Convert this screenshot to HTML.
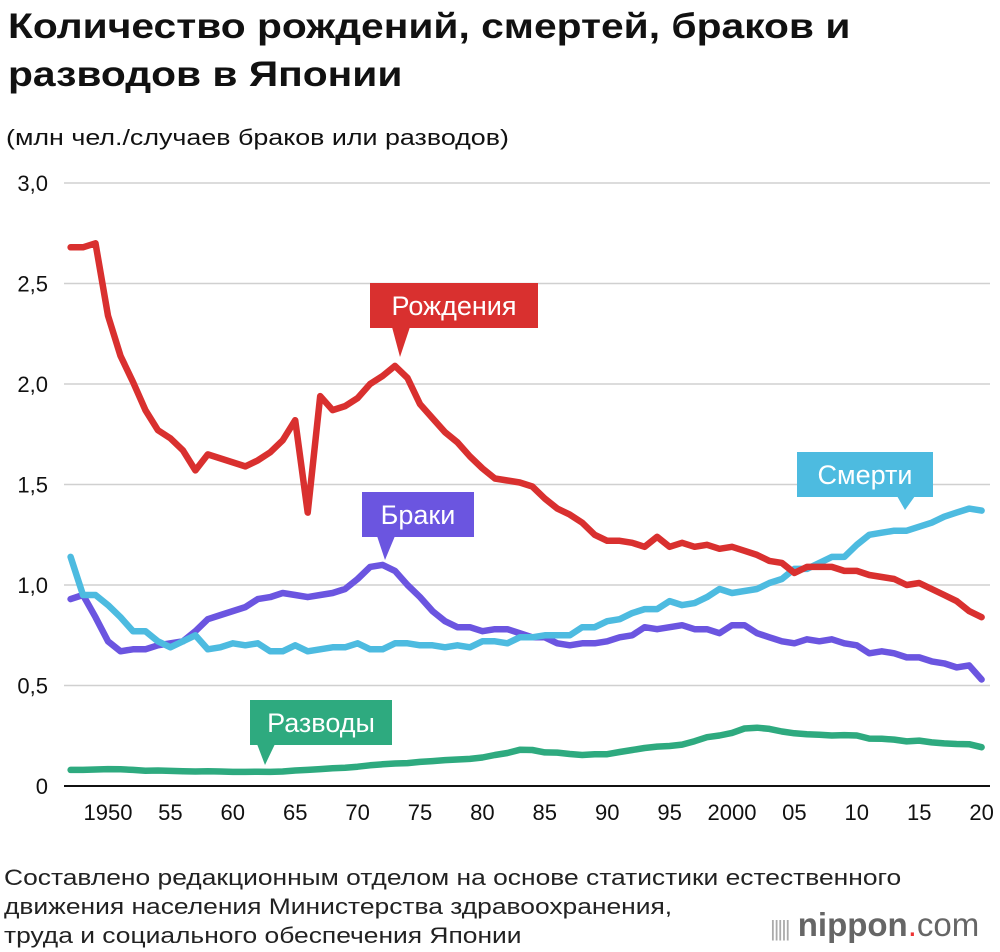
<!DOCTYPE html>
<html><head><meta charset="utf-8">
<style>
body{margin:0;background:#fff;font-family:"Liberation Sans",sans-serif;}
#wrap{position:relative;width:1000px;height:952px;overflow:hidden;}
.t{position:absolute;left:8px;font-weight:bold;font-size:35px;color:#111;line-height:48px;transform:scaleX(1.165);transform-origin:0 0;white-space:nowrap;}
</style></head><body>
<div id="wrap">
<div class="t" style="top:3px">Количество рождений, смертей, браков и<br>разводов в Японии</div>
<div style="position:absolute;left:6px;top:125px;font-size:22px;color:#111;transform:scaleX(1.22);transform-origin:0 0;white-space:nowrap">(млн чел./случаев браков или разводов)</div>
<svg id="svg" width="1000" height="952" style="position:absolute;left:0;top:0"></svg>
<div style="position:absolute;left:4px;top:863px;font-size:22px;line-height:29px;color:#222;transform:scaleX(1.2);transform-origin:0 0;white-space:nowrap">Составлено редакционным отделом на основе статистики естественного<br>движения населения Министерства здравоохранения,<br>труда и социального обеспечения Японии</div>
<div style="position:absolute;left:770px;top:906px;font-size:33px;color:#666;"><span style="font-size:22px;letter-spacing:-2px;color:#aaa">|||||</span> <b>nippon</b><span style="color:#e33">.</span>com</div>
</div>
<script>
const years=[];for(let y=1947;y<=2020;y++)years.push(y);
const births=[2.68,2.68,2.70,2.34,2.14,2.01,1.87,1.77,1.73,1.67,1.57,1.65,1.63,1.61,1.59,1.62,1.66,1.72,1.82,1.36,1.94,1.87,1.89,1.93,2.00,2.04,2.09,2.03,1.90,1.83,1.76,1.71,1.64,1.58,1.53,1.52,1.51,1.49,1.43,1.38,1.35,1.31,1.25,1.22,1.22,1.21,1.19,1.24,1.19,1.21,1.19,1.20,1.18,1.19,1.17,1.15,1.12,1.11,1.06,1.09,1.09,1.09,1.07,1.07,1.05,1.04,1.03,1.00,1.01,0.98,0.95,0.92,0.87,0.84];
const deaths=[1.14,0.95,0.95,0.90,0.84,0.77,0.77,0.72,0.69,0.72,0.75,0.68,0.69,0.71,0.70,0.71,0.67,0.67,0.70,0.67,0.68,0.69,0.69,0.71,0.68,0.68,0.71,0.71,0.70,0.70,0.69,0.70,0.69,0.72,0.72,0.71,0.74,0.74,0.75,0.75,0.75,0.79,0.79,0.82,0.83,0.86,0.88,0.88,0.92,0.90,0.91,0.94,0.98,0.96,0.97,0.98,1.01,1.03,1.08,1.08,1.11,1.14,1.14,1.20,1.25,1.26,1.27,1.27,1.29,1.31,1.34,1.36,1.38,1.37];
const marriages=[0.93,0.95,0.84,0.72,0.67,0.68,0.68,0.70,0.71,0.72,0.77,0.83,0.85,0.87,0.89,0.93,0.94,0.96,0.95,0.94,0.95,0.96,0.98,1.03,1.09,1.10,1.07,1.00,0.94,0.87,0.82,0.79,0.79,0.77,0.78,0.78,0.76,0.74,0.74,0.71,0.70,0.71,0.71,0.72,0.74,0.75,0.79,0.78,0.79,0.80,0.78,0.78,0.76,0.80,0.80,0.76,0.74,0.72,0.71,0.73,0.72,0.73,0.71,0.70,0.66,0.67,0.66,0.64,0.64,0.62,0.61,0.59,0.60,0.53];
const divorces=[0.080,0.080,0.082,0.084,0.083,0.080,0.076,0.077,0.075,0.073,0.072,0.073,0.072,0.070,0.070,0.071,0.070,0.072,0.077,0.080,0.084,0.088,0.091,0.096,0.103,0.108,0.112,0.114,0.120,0.124,0.129,0.132,0.135,0.142,0.154,0.164,0.180,0.179,0.167,0.166,0.159,0.154,0.158,0.158,0.169,0.179,0.189,0.196,0.199,0.206,0.223,0.243,0.251,0.264,0.286,0.290,0.284,0.271,0.262,0.257,0.255,0.251,0.253,0.251,0.236,0.235,0.231,0.222,0.226,0.217,0.212,0.209,0.208,0.193];
const yTicks=[0,0.5,1.0,1.5,2.0,2.5,3.0];
const yTickLabels=["0","0,5","1,0","1,5","2,0","2,5","3,0"];
const xTicks=[1950,1955,1960,1965,1970,1975,1980,1985,1990,1995,2000,2005,2010,2015,2020];
const xTickLabels=["1950","55","60","65","70","75","80","85","90","95","2000","05","10","15","20"];
const X=y=>108+(y-1950)*12.48, Y=v=>786-v*201;
const svg=document.getElementById('svg'),NS="http://www.w3.org/2000/svg";
function mk(t,a,p){const e=document.createElementNS(NS,t);for(const k in a)e.setAttribute(k,a[k]);(p||svg).appendChild(e);return e;}
yTicks.forEach((v,i)=>{
 const l=mk('line',{x1:64,x2:990,y1:Y(v),y2:Y(v),stroke:v===0?'#111':'#d0d0d0','stroke-width':v===0?2:1.5});
 
 
 const t=mk('text',{x:48,y:Y(v)+8,'font-size':22,fill:'#111','text-anchor':'end','font-family':'Liberation Sans'});
 t.textContent=yTickLabels[i];
 
 
});
xTicks.forEach((yr,i)=>{
 const t=mk('text',{x:X(yr),y:820,'font-size':22,fill:'#111','text-anchor':'middle','font-family':'Liberation Sans'});
 t.textContent=xTickLabels[i];
 
 
});
function line(data,color,name){
 const d=data.map((v,i)=>(i?'L':'M')+X(years[i]).toFixed(1)+' '+Y(v).toFixed(1)).join('');
 const p=mk('path',{d:d,fill:'none',stroke:color,'stroke-width':6.5,'stroke-linejoin':'round','stroke-linecap':'round'});
 
 
}
line(divorces,'#2eaa7f','divorces-line');
line(marriages,'#6b55e0','marriages-line');
line(deaths,'#4dbbe0','deaths-line');
line(births,'#d9302f','births-line');
function label(txt,x,y,w,color,px,py,name){
 const g=mk('g',{});
 
 
 mk('rect',{x:x,y:y,width:w,height:45,fill:color},g);
 mk('polygon',{points:`${px-8},${y+44} ${px+10},${y+44} ${px},${py}`,fill:color},g);
 const t=mk('text',{x:x+w/2,y:y+32,'font-size':27,fill:'#fff','text-anchor':'middle','font-family':'Liberation Sans'},g);
 t.textContent=txt;
}
label('Рождения',370,283,168,'#d9302f',400,357,'births-label');
label('Смерти',797,452,136,'#4dbbe0',905,510,'deaths-label');
label('Браки',362,492,112,'#6b55e0',385,560,'marriages-label');
label('Разводы',250,700,142,'#2eaa7f',265,765,'divorces-label');
</script>
</body></html>
